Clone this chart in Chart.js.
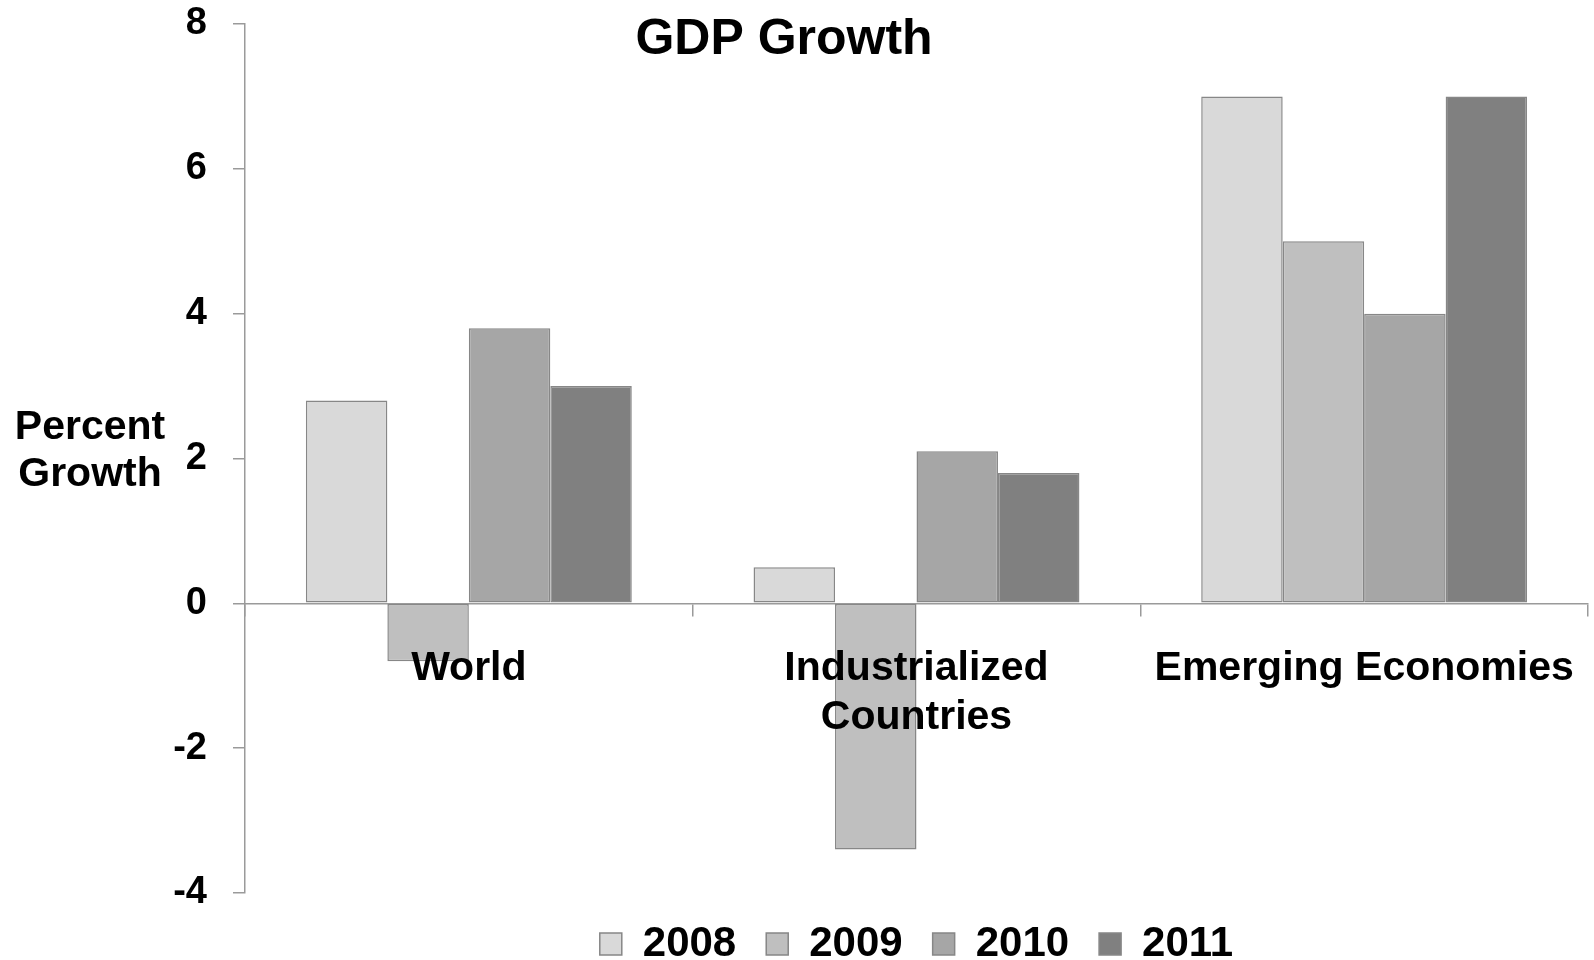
<!DOCTYPE html>
<html>
<head>
<meta charset="utf-8">
<title>GDP Growth</title>
<script src="https://cdn.jsdelivr.net/npm/chart.js@4.4.1/dist/chart.umd.min.js"></script>
<style>
  body { margin: 0; background: #fff; }
  .chart-box { width: 1594px; height: 960px; }
</style>
</head>
<body>
<div class="chart-box"><canvas id="gdpChart"></canvas></div>
<script>
const regions = ["World", ["Industrialized", "Countries"], "Emerging Economies"];
const years = ["2008", "2009", "2010", "2011"];
const growth2008 = [2.8, 0.5, 7.0];
const growth2009 = [-0.8, -3.4, 5.0];
const growth2010 = [3.8, 2.1, 4.0];
const growth2011 = [3.0, 1.8, 7.0];
const yTicks = [-4, -2, 0, 2, 4, 6, 8];
const barColors = ["#d9d9d9", "#bfbfbf", "#a6a6a6", "#808080"];

const chartTitle = "GDP Growth";
const yTitle = ["Percent", "Growth"];
const axisGray = "#9a9a9a";
const font = '"Liberation Sans", Arial, sans-serif';

Chart.defaults.font.family = font;
Chart.defaults.color = "#000";

// title and horizontal y-axis title, drawn over the plot like the original
const extraText = {
  id: "extraText",
  afterDraw: function(chart) {
    const ctx = chart.ctx;
    ctx.save();
    ctx.fillStyle = "#000";
    ctx.textAlign = "center";
    ctx.textBaseline = "middle";
    ctx.font = "bold 50px " + font;
    ctx.fillText(chartTitle, 784, 40);
    ctx.font = "bold 41px " + font;
    ctx.fillText(yTitle[0], 90, 428);
    ctx.fillText(yTitle[1], 90, 475);
    ctx.restore();
  }
};

const allSeries = [growth2008, growth2009, growth2010, growth2011];

new Chart("gdpChart", {
  type: "bar",
  data: {
    labels: regions,
    datasets: allSeries.map(function(values, i) {
      return {
        label: years[i],
        data: values,
        backgroundColor: barColors[i],
        borderColor: "#878787",
        borderWidth: 1.5,
        borderSkipped: false,
        categoryPercentage: 0.728,
        barPercentage: 1
      };
    })
  },
  options: {
    responsive: true,
    maintainAspectRatio: false,
    animation: false,
    layout: {padding: {top: 0, left: 0, right: 6, bottom: -15}},
    plugins: {
      title: {display: false},
      tooltip: {enabled: false},
      legend: {
        position: "bottom",
        fullSize: false,
        labels: {
          boxWidth: 22,
          boxHeight: 22,
          padding: 30,
          color: "#000",
          font: {size: 42, weight: "bold"}
        }
      }
    },
    scales: {
      x: {
        position: {y: 0},
        afterFit: function(scale) {
          scale.paddingLeft = 0;
          scale.paddingRight = 0;
        },
        grid: {drawOnChartArea: false, drawTicks: true, tickLength: 12, color: axisGray, lineWidth: 1.5, offset: true},
        border: {color: axisGray, width: 1.5},
        ticks: {z: 1, font: {size: 41, weight: "bold"}, padding: 29, maxRotation: 0, autoSkip: false, color: "#000"}
      },
      y: {
        min: -4,
        max: 8,
        afterBuildTicks: function(scale) {
          scale.ticks = yTicks.map(function(v) { return {value: v}; });
        },
        afterFit: function(scale) {
          scale.width = 245;
          scale.paddingTop = 24;
          scale.paddingBottom = 24;
        },
        grid: {drawOnChartArea: false, drawTicks: true, tickLength: 12, color: axisGray, lineWidth: 1.5},
        border: {color: axisGray, width: 1.5},
        ticks: {font: {size: 38, weight: "bold"}, padding: 26, color: "#000"}
      }
    }
  },
  plugins: [extraText]
});
</script>
</body>
</html>
